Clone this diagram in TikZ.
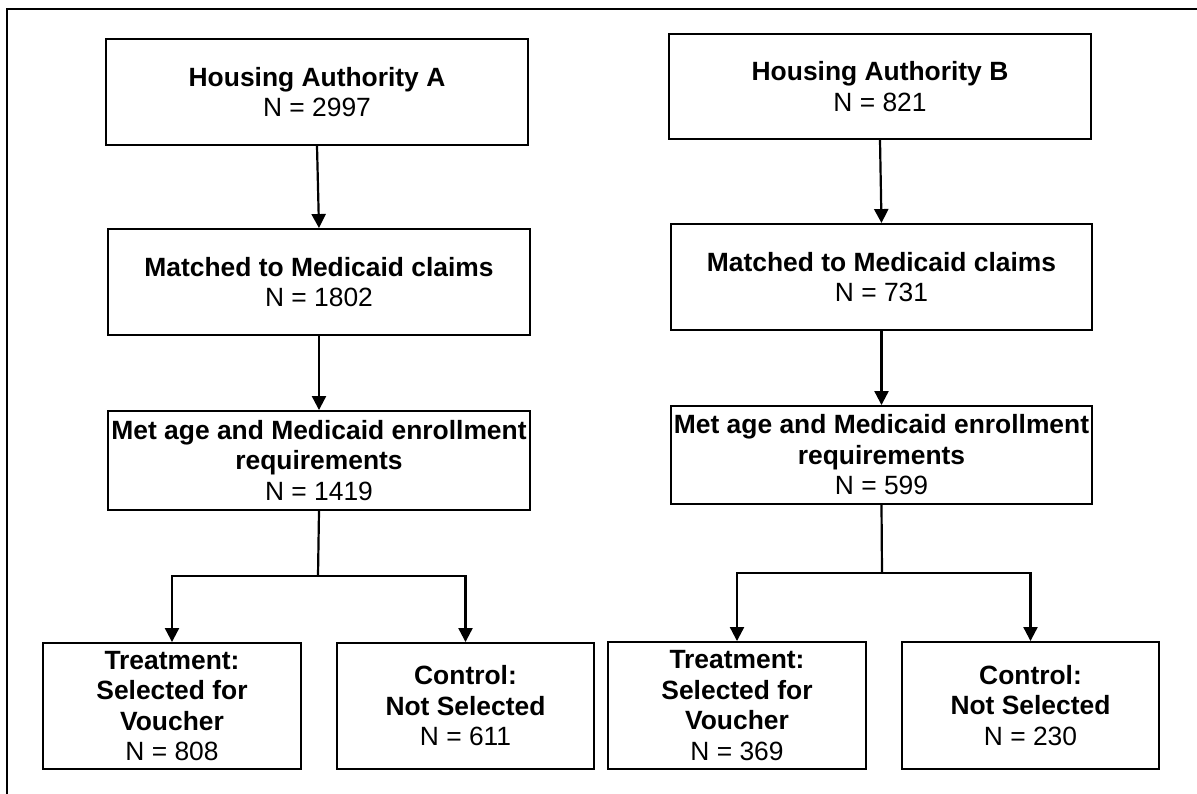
\documentclass[tikz,border=0pt]{standalone}
\usepackage{fontspec}
\setmainfont{Liberation Sans}
\usetikzlibrary{arrows.meta}
\tikzset{
  box/.style={draw=black, line width=1.9pt, align=center, inner sep=0pt,
    font=\fontsize{26.4}{30.5}\selectfont},
  conn/.style={draw=black, line width=2.2pt},
  arr/.style={conn, -{Triangle[width=14pt,length=14pt]}},
}
\begin{document}
\begin{tikzpicture}[x=1pt,y=-1pt]
\useasboundingbox (0,0) rectangle (1197,794);
\draw[line width=2.8pt] (7,794) -- (7,9) -- (1197,9);
% Left column
\node[box, minimum width=422pt, minimum height=106pt] (A1) at (317,92)
  {\textbf{Housing Authority A}\\N = 2997};
\node[box, minimum width=422pt, minimum height=106pt] (A2) at (319,282)
  {\textbf{Matched to Medicaid claims}\\N = 1802};
\node[box, minimum width=422pt, minimum height=99pt] (A3) at (319,460.5)
  {\textbf{Met age and Medicaid enrollment}\\\textbf{requirements}\\N = 1419};
\node[box, minimum width=258pt, minimum height=126pt] (TA) at (172,706)
  {\textbf{Treatment:}\\\textbf{Selected for}\\\textbf{Voucher}\\N = 808};
\node[box, minimum width=257pt, minimum height=126pt] (CA) at (465.5,706)
  {\textbf{Control:}\\\textbf{Not Selected}\\N = 611};
% Right column
\node[box, minimum width=422pt, minimum height=105pt] (B1) at (880,86.5)
  {\textbf{Housing Authority B}\\N = 821};
\node[box, minimum width=421pt, minimum height=106pt] (B2) at (881.5,277)
  {\textbf{Matched to Medicaid claims}\\N = 731};
\node[box, minimum width=421pt, minimum height=98pt] (B3) at (881.5,455)
  {\textbf{Met age and Medicaid enrollment}\\\textbf{requirements}\\N = 599};
\node[box, minimum width=258pt, minimum height=127pt] (TB) at (737,705.5)
  {\textbf{Treatment:}\\\textbf{Selected for}\\\textbf{Voucher}\\N = 369};
\node[box, minimum width=257pt, minimum height=127pt] (CB) at (1030.5,705.5)
  {\textbf{Control:}\\\textbf{Not Selected}\\N = 230};
% Connectors
\coordinate (jA) at (318,576);
\coordinate (jB) at (882,573);
\draw[arr] (A1.south) -- (A2.north);
\draw[arr] (A2.south) -- (A3.north);
\draw[conn] (A3.south) -- (jA);
\draw[arr] (jA) -| (TA.north);
\draw[arr] (jA) -| (CA.north);
\draw[arr] (B1.south) -- (B2.north);
\draw[arr] (B2.south) -- (B3.north);
\draw[conn] (B3.south) -- (jB);
\draw[arr] (jB) -| (TB.north);
\draw[arr] (jB) -| (CB.north);
\end{tikzpicture}
\end{document}
